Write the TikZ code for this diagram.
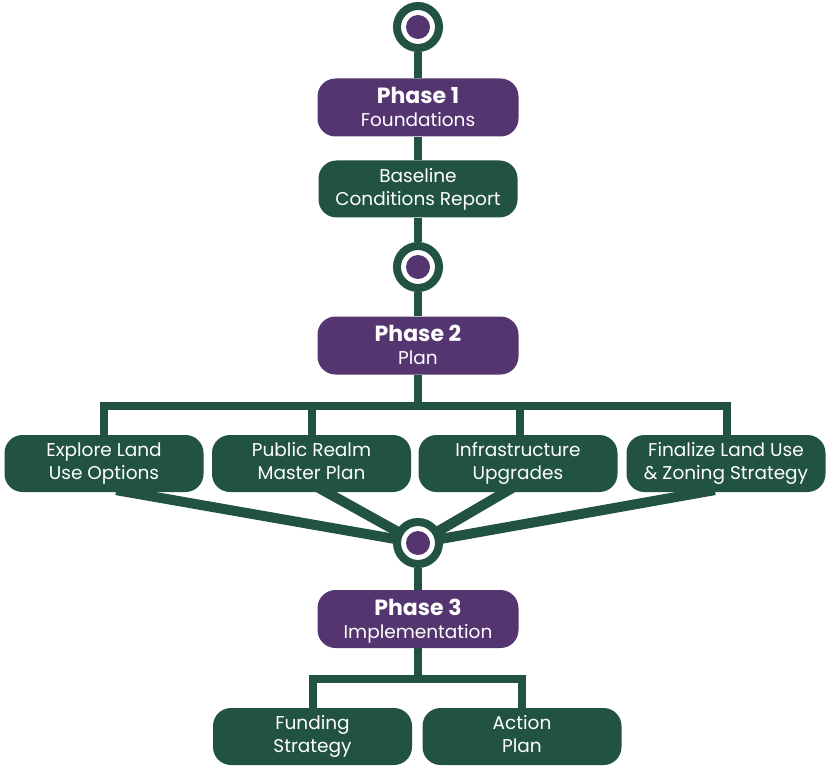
\documentclass[tikz,border=0pt]{standalone}
\usepackage{fontspec}
\setmainfont{Poppins}
\usetikzlibrary{backgrounds}

\definecolor{pinegreen}{RGB}{33,82,67}
\definecolor{phasepurple}{RGB}{84,53,112}
\newcommand{\phasehead}[1]{{\fontsize{22}{24}\selectfont\bfseries #1}}

\begin{document}
\begin{tikzpicture}[x=1pt, y=-1pt]
    \tikzset{
        link/.style={draw=pinegreen, line width=8pt},
        spoke/.style={draw=pinegreen, line width=10pt, shorten <=-12pt},
        phase/.style={fill=phasepurple, text=white, rounded corners=18pt, minimum width=201pt, minimum height=58pt, inner sep=0pt, align=center, text depth=1pt, font=\fontsize{18.5}{23}\selectfont},
        task/.style={phase, fill=pinegreen, minimum width=199pt, minimum height=57pt, text depth=5pt},
        milestone/.style={circle, draw=pinegreen, fill=white, line width=8pt, minimum size=42pt, inner sep=0pt},
        dot/.style={circle, fill=phasepurple, minimum size=24pt, inner sep=0pt}
    }
    \useasboundingbox (0,0) rectangle (826,767);

    % phase 1
    \node [milestone] (m1) at (418,27) {};
    \node [dot] (m1dot) at (m1) {};
    \node [phase] (p1) at (418,107.5) {\phasehead{Phase 1}\\ Foundations};
    \node [task] (base) at (418,189) {Baseline\\ Conditions Report};

    % phase 2
    \node [milestone] (m2) at (418,267) {};
    \node [dot] (m2dot) at (m2) {};
    \node [phase] (p2) at (418,345.5) {\phasehead{Phase 2}\\ Plan};
    \coordinate (bus2) at (418,406);
    \node [task] (b1) at (104,463.5) {Explore Land\\ Use Options};
    \node [task] (b2) at (311.5,463.5) {Public Realm\\ Master Plan};
    \node [task] (b3) at (518,463.5) {Infrastructure\\ Upgrades};
    \node [task] (b4) at (726,463.5) {Finalize Land Use\\ \& Zoning Strategy};

    % phase 3
    \node [milestone] (m3) at (418,543) {};
    \node [dot] (m3dot) at (m3) {};
    \node [phase] (p3) at (418,619) {\phasehead{Phase 3}\\ Implementation};
    \coordinate (bus3) at (418,679);
    \node [task] (fund) at (312.5,736.5) {Funding\\ Strategy};
    \node [task] (act) at (522,736.5) {Action\\ Plan};

    \begin{scope}[on background layer]
        \draw [link] (m1) -- (p1);
        \draw [link] (p1) -- (base);
        \draw [link] (base) -- (m2);
        \draw [link] (m2) -- (p2);
        \draw [link] (p2) -- (bus2);
        \draw [link] (b1.north) |- (bus2) -| ([xshift=1pt]b4.north);
        \draw [link] (b2.north) -- (b2.north |- bus2);
        \draw [link] ([xshift=2pt]b3.north) -- ([xshift=2pt]b3.north |- bus2);
        % spokes into milestone 3
        \draw [spoke] ([xshift=24pt]b1.south) -- (m3.center);
        \draw [spoke] ([xshift=15pt]b2.south) -- (m3.center);
        \draw [spoke] ([xshift=-13pt]b3.south) -- (m3.center);
        \draw [spoke] ([xshift=-23pt]b4.south) -- (m3.center);
        \draw [link] (m3) -- (p3);
        \draw [link] (p3) -- (bus3);
        \draw [link] (fund.north) |- (bus3) -| ([xshift=-0.5pt]act.north);
    \end{scope}
\end{tikzpicture}
\end{document}
